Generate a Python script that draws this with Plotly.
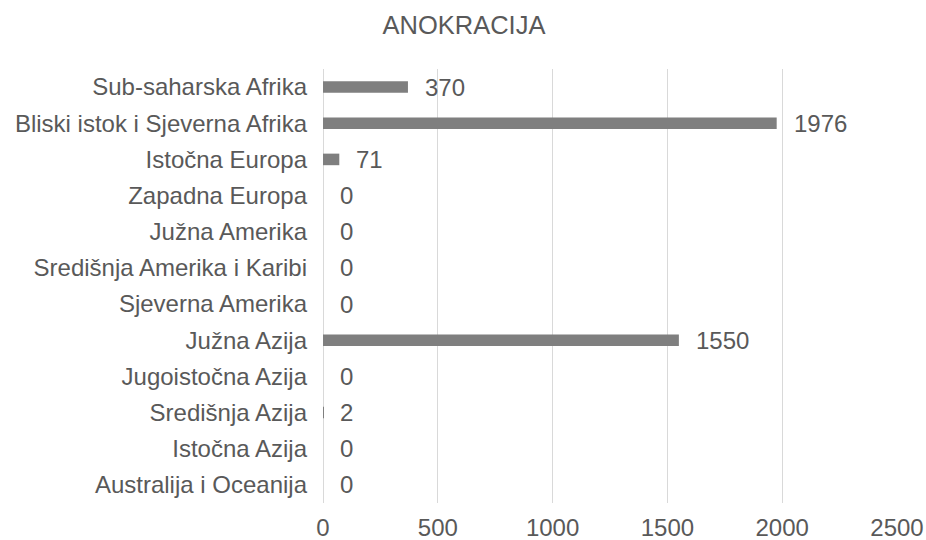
import plotly.graph_objects as go

categories = [
    "Sub-saharska Afrika",
    "Bliski istok i Sjeverna Afrika",
    "Istočna Europa",
    "Zapadna Europa",
    "Južna Amerika",
    "Središnja Amerika i Karibi",
    "Sjeverna Amerika",
    "Južna Azija",
    "Jugoistočna Azija",
    "Središnja Azija",
    "Istočna Azija",
    "Australija i Oceanija",
]
values = [370, 1976, 71, 0, 0, 0, 0, 1550, 0, 2, 0, 0]
x_ticks = [0, 500, 1000, 1500, 2000, 2500]
title = "ANOKRACIJA"

FONT = "Liberation Sans, Arial, sans-serif"
TXT = "#595959"
GRID = "#d9d9d9"

fig = go.Figure()
fig.add_trace(go.Bar(
    x=values, y=categories, orientation="h",
    marker=dict(color="#7f7f7f", line=dict(width=0)),
    hoverinfo="x+y",
))

for c, v in zip(categories, values):
    fig.add_annotation(
        x=v, y=c, text=str(v), showarrow=False,
        xanchor="left", yanchor="middle", xshift=15,
        font=dict(family=FONT, size=24, color=TXT),
    )

fig.update_layout(
    width=926, height=540,
    margin=dict(l=323, r=29, t=69, b=37, autoexpand=False),
    paper_bgcolor="white", plot_bgcolor="white",
    bargap=0.68,
    showlegend=False,
    title=dict(
        text=title, x=464 / 926, xanchor="center", xref="container",
        y=1 - 25 / 540, yanchor="middle", yref="container",
        font=dict(family=FONT, size=25.5, color=TXT),
    ),
    font=dict(family=FONT, size=24, color=TXT),
)
fig.update_xaxes(
    range=[0, 2500], tickvals=x_ticks, ticktext=[str(t) for t in x_ticks],
    showgrid=True, gridcolor=GRID, gridwidth=1.3,
    zeroline=True, zerolinecolor=GRID, zerolinewidth=1.3,
    showline=False, ticks="", ticklabelstandoff=8,
    automargin=False, ticklabeloverflow="allow",
    tickfont=dict(family=FONT, size=24, color=TXT),
)
fig.update_yaxes(
    autorange="reversed", showgrid=False, zeroline=False, showline=False,
    ticks="", ticklabelstandoff=15, automargin=False,
    tickfont=dict(family=FONT, size=24, color=TXT),
)

fig.write_html(
    "out.html",
    config={"displayModeBar": False},
    post_script="document.body.style.margin='0';document.body.style.overflow='hidden';",
)
